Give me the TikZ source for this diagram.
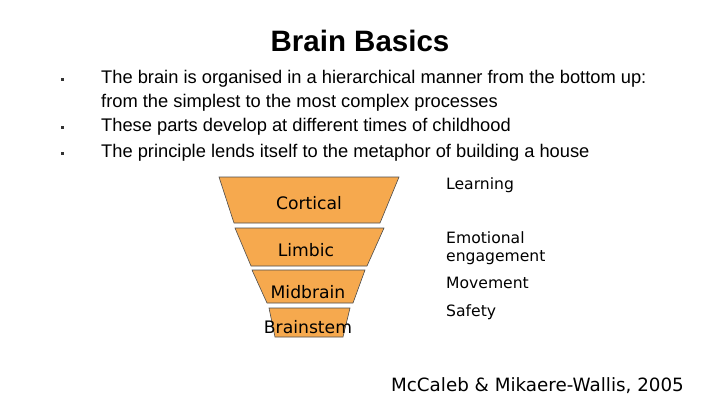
\documentclass[tikz,border=0pt]{standalone}
\usepackage{fontspec}
\setmainfont{Liberation Sans}
\newfontfamily\verd{DejaVu Sans}
\definecolor{fun}{HTML}{F6A94E}
\begin{document}
\begin{tikzpicture}[x=1pt,y=-1pt,
  seg/.style={fill=fun,draw=black!70,line width=0.6pt},
  body/.style={anchor=west,inner sep=0,font=\fontsize{18.3}{20}\selectfont},
  lab/.style={font=\verd\fontsize{17.2}{18}\selectfont,inner sep=0},
  rlab/.style={anchor=north west,align=left,inner sep=0,font=\verd\fontsize{15.6}{18.5}\selectfont}]
\path[use as bounding box] (0,0) rectangle (720,405);
\node (title) at (360,41) {\fontsize{29.5}{32}\selectfont\bfseries Brain Basics};
\foreach \y/\n in {79/b1,127/b2,153/b3} \node[fill=black!80,inner sep=0,minimum size=3pt] (\n) at (62,\y) {};
\node[body] (t1) at (101,79) {The brain is organised in a hierarchical manner from the bottom up:};
\node[body] (t1b) at (101,103) {from the simplest to the most complex processes};
\node[body] (t2) at (101,127) {These parts develop at different times of childhood};
\node[body] (t3) at (101,153) {The principle lends itself to the metaphor of building a house};
\draw[seg] (219,177) -- (399,177) -- (380,223) -- (234,223) -- cycle;
\draw[seg] (235,228) -- (384,228) -- (367,266) -- (251,266) -- cycle;
\draw[seg] (252,270) -- (365,270) -- (353,303) -- (267,303) -- cycle;
\draw[seg] (269,308) -- (350,308) -- (343,337) -- (275,337) -- cycle;
\node[lab] (cort) at (309,203) {Cortical};
\node[lab] (limb) at (306,250) {Limbic};
\node[lab] (mid) at (308,292) {Midbrain};
\node[lab] (stem) at (308,327) {Brainstem};
\node[rlab] (r1) at (446,177) {Learning};
\node[rlab] (r2) at (446,231) {Emotional\\engagement};
\node[rlab] (r3) at (446,277) {Movement};
\node[rlab] (r4) at (446,304) {Safety};
\node[anchor=east,inner sep=0,font=\verd\fontsize{18.3}{20}\selectfont] (cite) at (684,386) {McCaleb \& Mikaere-Wallis, 2005};
\end{tikzpicture}
\end{document}
